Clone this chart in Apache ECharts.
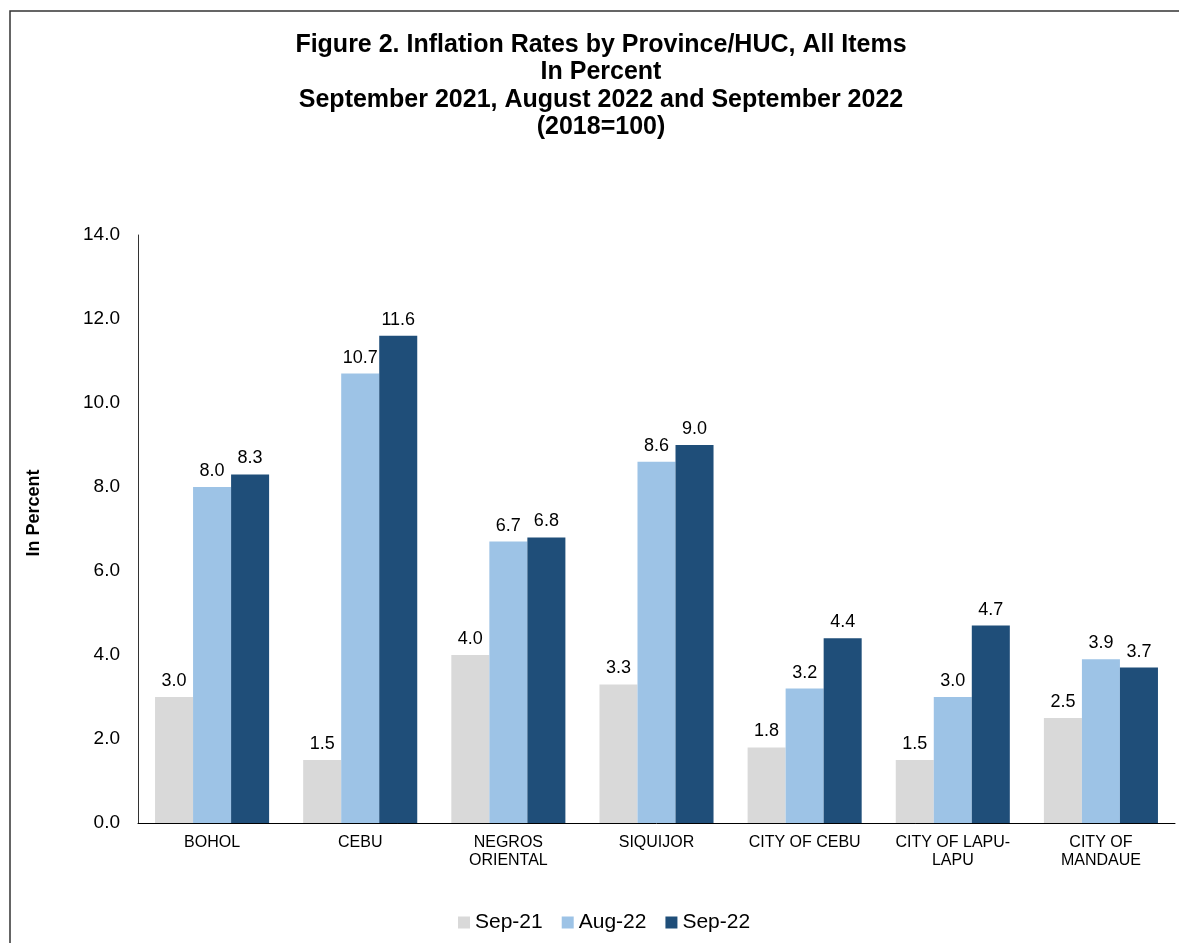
<!DOCTYPE html>
<html>
<head>
<meta charset="utf-8">
<script src="https://cdn.jsdelivr.net/npm/echarts@6/dist/echarts.min.js"></script>
<style>
  html, body { margin: 0; padding: 0; background: #fff; }
  #chart { width: 1179px; height: 943px; }
</style>
</head>
<body>
<div id="chart"></div>
<script>
// categories and values
var categories = ['BOHOL', 'CEBU', 'NEGROS\nORIENTAL', 'SIQUIJOR', 'CITY OF CEBU', 'CITY OF LAPU-\nLAPU', 'CITY OF\nMANDAUE'];
var sep21 = [3.0, 1.5, 4.0, 3.3, 1.8, 1.5, 2.5];
var aug22 = [8.0, 10.7, 6.7, 8.6, 3.2, 3.0, 3.9];
var sep22 = [8.3, 11.6, 6.8, 9.0, 4.4, 4.7, 3.7];
var seriesNames = ['Sep-21', 'Aug-22', 'Sep-22'];
var yTicks = [0, 2, 4, 6, 8, 10, 12, 14];

var myChart = echarts.init(document.getElementById('chart'));

// shared bar style
function makeBar(name, data, color) {
    return {
        name: name,
        type: 'bar',
        data: data,
        barGap: 0,
        barCategoryGap: '23%',
        itemStyle: { color: color },
        label: {
            show: true,
            position: 'top',
            distance: 7,
            color: '#000',
            fontSize: 18,
            fontFamily: 'Liberation Sans, Arial',
            formatter: function (p) { return p.value.toFixed(1); }
        }
    };
}

var option = {
    animation: false,
    textStyle: { fontFamily: 'Liberation Sans, Arial' },
    title: {
        text: 'Figure 2. Inflation Rates by Province/HUC, All Items\nIn Percent\nSeptember 2021, August 2022 and September 2022\n(2018=100)',
        left: 596,
        top: 26,
        textAlign: 'center',
        textStyle: {
            fontSize: 25,
            fontWeight: 'bold',
            color: '#000',
            lineHeight: 27.5,
            fontFamily: 'Liberation Sans, Arial'
        }
    },
    graphic: [{
        type: 'rect',
        silent: true,
        shape: { x: 10, y: 11, width: 1400, height: 1100 },
        style: { fill: 'none', stroke: '#333', lineWidth: 1.5 }
    }],
    legend: {
        top: 907,
        left: 453,
        icon: 'rect',
        itemWidth: 12,
        itemHeight: 12,
        itemGap: 19,
        textStyle: { fontSize: 21, color: '#000' },
        data: seriesNames
    },
    grid: {
        left: 138,
        right: 4,
        top: 235,
        bottom: 120
    },
    xAxis: {
        type: 'category',
        data: categories,
        axisTick: { show: false },
        axisLine: { lineStyle: { color: '#000', width: 1 } },
        axisLabel: {
            color: '#000',
            fontSize: 16,
            margin: 11,
            lineHeight: 18,
            interval: 0
        }
    },
    yAxis: {
        type: 'value',
        min: yTicks[0],
        max: yTicks[yTicks.length - 1],
        interval: 2,
        name: 'In Percent',
        nameLocation: 'middle',
        nameGap: 95,
        nameTextStyle: { fontSize: 18, fontWeight: 'bold', color: '#000', padding: [0, 0, 0, 32] },
        splitLine: { show: false },
        axisTick: { show: false },
        axisLine: { show: true, lineStyle: { color: '#333', width: 1 } },
        axisLabel: {
            color: '#000',
            fontSize: 19,
            margin: 18,
            formatter: function (v) { return v.toFixed(1); }
        }
    },
    series: [
        makeBar(seriesNames[0], sep21, '#D9D9D9'),
        makeBar(seriesNames[1], aug22, '#9DC3E6'),
        makeBar(seriesNames[2], sep22, '#1F4E79')
    ]
};

myChart.setOption(option);
</script>
</body>
</html>
